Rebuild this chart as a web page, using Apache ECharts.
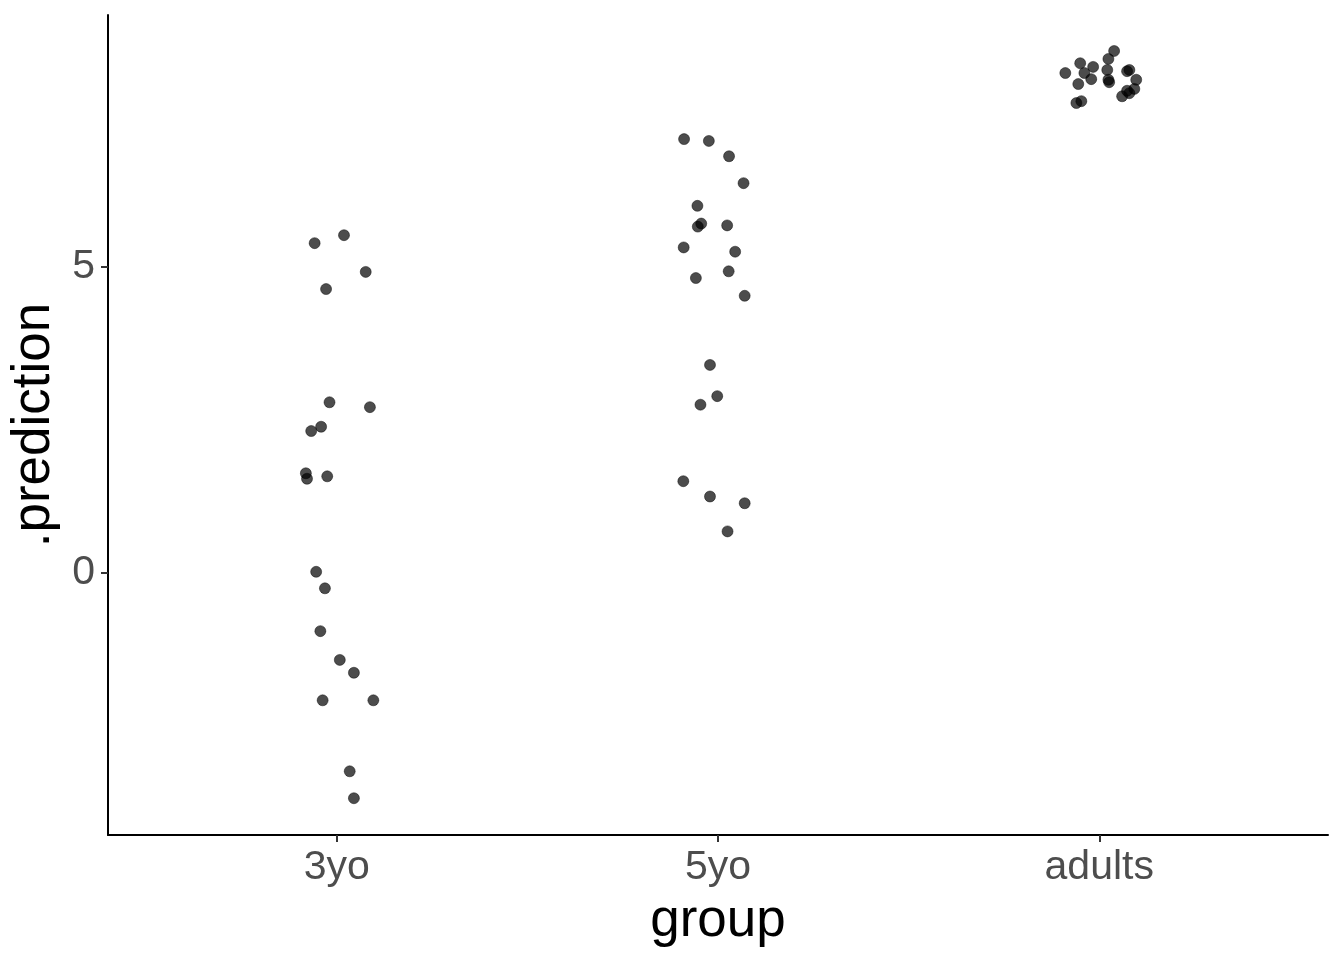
<!DOCTYPE html>
<html>
<head>
<meta charset="utf-8">
<script src="https://cdn.jsdelivr.net/npm/echarts@6/dist/echarts.min.js"></script>
<style>
html,body{margin:0;padding:0;background:#fff;}
#chart{width:1344px;height:960px;}
</style>
</head>
<body>
<div id="chart"></div>
<script>
// Categories (x tick labels)
const categories = ['3yo', '5yo', 'adults'];
const yTicks = [0, 5];

// Horizontal jitter offsets (in category units) and predicted values
const jitter3yo = [-0.058, 0.019, 0.076, -0.028, -0.019, 0.087, -0.041, -0.067, -0.081, -0.078,
                   -0.025, -0.054, -0.031, -0.043, 0.008, 0.045, -0.037, 0.096, 0.034, 0.045];
const values3yo = [5.39, 5.52, 4.92, 4.64, 2.79, 2.71, 2.39, 2.32, 1.63, 1.54,
                   1.58, 0.02, -0.25, -0.95, -1.42, -1.63, -2.08, -2.08, -3.24, -3.68];

const jitter5yo = [-0.089, -0.024, 0.029, 0.067, -0.054, -0.044, -0.053, 0.024, -0.090, 0.045,
                   0.028, -0.058, 0.070, -0.021, -0.002, -0.046, -0.091, -0.021, 0.070, 0.025];
const values5yo = [7.09, 7.06, 6.81, 6.37, 6.00, 5.71, 5.66, 5.68, 5.32, 5.25,
                   4.93, 4.82, 4.53, 3.40, 2.89, 2.75, 1.50, 1.25, 1.14, 0.68];

const jitterAdults = [-0.089, -0.050, -0.016, -0.039, -0.021, -0.055, 0.039, 0.024, 0.021, 0.024,
                      0.026, 0.079, 0.073, 0.097, 0.060, 0.079, 0.092, 0.073, -0.060, -0.047];
const valuesAdults = [8.17, 8.33, 8.27, 8.17, 8.07, 7.99, 8.53, 8.40, 8.22, 8.06,
                      8.02, 8.22, 8.20, 8.06, 7.79, 7.84, 7.91, 7.88, 7.68, 7.71];

const groups = [
  {jitter: jitter3yo, values: values3yo},
  {jitter: jitter5yo, values: values5yo},
  {jitter: jitterAdults, values: valuesAdults}
];

const points = [];
groups.forEach((g, i) => {
  g.values.forEach((v, k) => points.push([i + 1 + g.jitter[k], v]));
});

const chart = echarts.init(document.getElementById('chart'));
const font = 'Liberation Sans, Arial, Helvetica, sans-serif';
chart.setOption({
  backgroundColor: '#ffffff',
  animation: false,
  grid: {left: 108, right: 16, top: 15, bottom: 125, containLabel: false, outerBoundsMode: 'none'},
  xAxis: {
    type: 'value',
    min: 0.4,
    max: 3.6,
    name: 'group',
    nameLocation: 'middle',
    nameGap: 60,
    nameTextStyle: {fontFamily: font, fontSize: 53, color: '#000000'},
    axisLine: {show: true, onZero: false, lineStyle: {color: '#000000', width: 2}},
    axisTick: {show: true, length: 7, customValues: [1, 2, 3], lineStyle: {color: '#333333', width: 2}},
    axisLabel: {
      show: true, margin: 12, customValues: [1, 2, 3],
      fontFamily: font, fontSize: 41, color: '#4d4d4d',
      formatter: v => categories[Math.round(v) - 1]
    },
    splitLine: {show: false}
  },
  yAxis: {
    type: 'value',
    min: -4.281,
    max: 9.118,
    name: '.prediction',
    nameLocation: 'middle',
    nameGap: 44,
    nameRotate: 90,
    nameTextStyle: {fontFamily: font, fontSize: 53, color: '#000000'},
    axisLine: {show: true, onZero: false, lineStyle: {color: '#000000', width: 2}},
    axisTick: {show: true, length: 7, customValues: yTicks, lineStyle: {color: '#333333', width: 2}},
    axisLabel: {
      show: true, margin: 13, customValues: yTicks,
      fontFamily: font, fontSize: 41, color: '#4d4d4d'
    },
    splitLine: {show: false}
  },
  series: [{
    type: 'scatter',
    data: points,
    symbol: 'circle',
    symbolSize: 11,
    itemStyle: {color: 'rgba(0,0,0,0.7)', borderColor: 'rgba(0,0,0,0.45)', borderWidth: 1, opacity: 1}
  }]
});
</script>
</body>
</html>
